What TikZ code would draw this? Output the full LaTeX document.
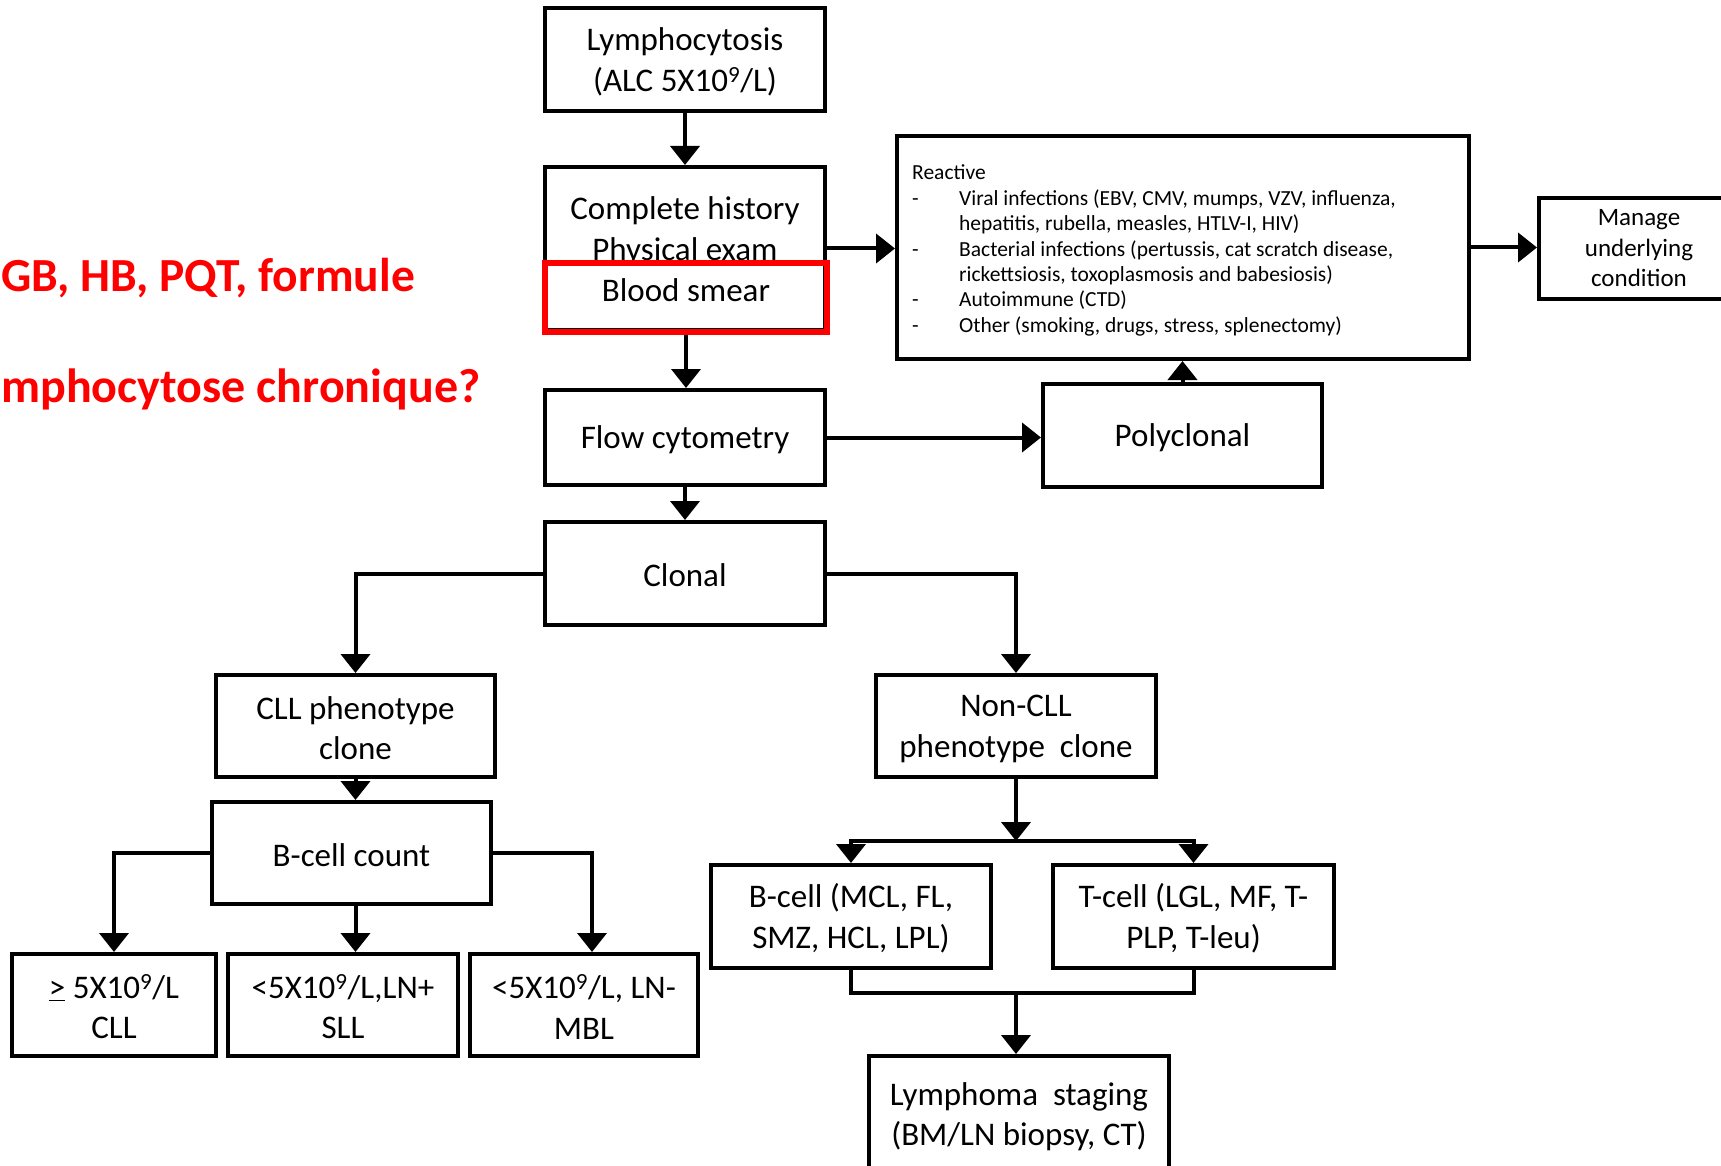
\documentclass[tikz,border=0pt]{standalone}
\usepackage{fontspec}
\setmainfont{Carlito}
\usetikzlibrary{arrows.meta,calc}
\definecolor{alert}{RGB}{255,0,0}
\begin{document}
\begin{tikzpicture}[x=1pt,y=-1pt,
  box/.style={draw, line width=4pt, align=center, inner sep=0pt,
    font=\fontsize{33}{40.5}\selectfont},
  one/.style={text height=27pt},
  two/.style={text height=68pt},
  txt/.style={align=center, inner sep=0pt, font=\fontsize{33}{40.5}\selectfont},
  arr/.style={line width=4pt, -{Triangle[width=29pt,length=19pt]}},
  link/.style={line width=4pt},
  redtext/.style={anchor=base west, inner sep=0pt, text=alert}]

\useasboundingbox (0,0) rectangle (1721,1166);
\fill[white] (0,0) rectangle (1721,1166);
\clip (0,0) rectangle (1721,1166);

% side notes
\node[redtext, font=\bfseries\fontsize{47.5}{56}\selectfont] (noteA) at (1,291)
  {GB, HB, PQT, formule};
\node[redtext, font=\bfseries\fontsize{48}{56}\selectfont] (noteB) at (1,402)
  {mphocytose chronique?};

% main column
\node[box, two, minimum width=280pt, minimum height=103pt] (lym) at (685,59.5)
  {Lymphocytosis\\(ALC 5X10\textsuperscript{9}/L)};
\node[box, minimum width=280pt, minimum height=163pt] (hist) at (685,248.5) {};
\node[txt] (histtext) at (685,231) {Complete history\\Physical exam};
\node[draw=alert, line width=5.5pt, minimum width=282pt, minimum height=69pt,
  inner sep=0pt] (smear) at (686,297.5) {};
\node[txt] (smeartext) at (686,290.5) {Blood smear};
\node[box, one, minimum width=280pt, minimum height=95pt] (flow) at (685,437.5) {Flow cytometry};
\node[box, one, minimum width=280pt, minimum height=103pt] (clonal) at (685,573.5) {Clonal};

% reactive branch
\node[draw, line width=4pt, minimum width=572pt, minimum height=223pt,
  inner sep=0pt] (reactive) at (1183,247.5) {};
\node[anchor=base west, inner sep=0pt, font=\fontsize{21.5}{25.4}\selectfont]
  (reactlist) at (912,180) {\begin{tabular}[t]{@{}p{47pt}@{}l@{}}
  \multicolumn{2}{@{}l@{}}{Reactive}\\
  -&Viral infections (EBV, CMV, mumps, VZV, influenza,\\
   &hepatitis, rubella, measles, HTLV-I, HIV)\\
  -&Bacterial infections (pertussis, cat scratch disease,\\
   &rickettsiosis, toxoplasmosis and babesiosis)\\
  -&Autoimmune (CTD)\\
  -&Other (smoking, drugs, stress, splenectomy)
  \end{tabular}};
\node[box, minimum width=200pt, minimum height=101pt,
  font=\fontsize{25}{30.5}\selectfont] (manage) at (1639,248.5)
  {Manage\\underlying\\condition};
\node[box, one, minimum width=279pt, minimum height=103pt] (poly) at (1182.5,435.5) {Polyclonal};

% CLL branch
\node[box, two, minimum width=279pt, minimum height=102pt] (cll) at (355.5,726)
  {CLL phenotype\\clone};
\node[box, one, minimum width=279pt, minimum height=102pt] (bcount) at (351.5,853) {B-cell count};
\node[box, two, minimum width=204pt, minimum height=102pt] (b1) at (114,1005)
  {\underline{>} 5X10\textsuperscript{9}/L\\CLL};
\node[box, two, minimum width=230pt, minimum height=102pt] (b2) at (343,1005)
  {<5X10\textsuperscript{9}/L,LN+\\SLL};
\node[box, two, minimum width=228pt, minimum height=102pt] (b3) at (584,1005)
  {<5X10\textsuperscript{9}/L, LN-\\MBL};

% non-CLL branch
\node[box, two, minimum width=280pt, minimum height=102pt] (noncll) at (1016,726)
  {Non-CLL\\phenotype\ \ clone};
\node[box, two, minimum width=280pt, minimum height=103pt] (bcell) at (851,916.5)
  {B-cell (MCL, FL,\\SMZ, HCL, LPL)};
\node[box, two, minimum width=281pt, minimum height=103pt] (tcell) at (1193.5,916.5)
  {T-cell (LGL, MF, T-\\PLP, T-leu)};
\node[box, two, minimum width=300pt, minimum height=117pt] (staging) at (1019,1114.5)
  {Lymphoma\ \ staging\\(BM/LN biopsy, CT)};

\coordinate (split) at (1016,841);
\coordinate (merge) at (1016,993);

% connectors
\draw[arr] (lym.south) -- (lym.south |- hist.north);
\draw[arr] (hist.east) -- (reactive.west |- hist.east);
\draw[arr] (smear.south) -- (smear.south |- flow.north);
\draw[arr] (flow.east) -- (poly.west |- flow.east);
\draw[arr] (poly.north) -- (poly.north |- reactive.south);
\draw[arr] (reactive.east) -- (manage.west |- reactive.east);
\draw[arr] (flow.south) -- (clonal.north);
\draw[arr] (clonal.west) -| (cll.north);
\draw[arr] (clonal.east) -| (noncll.north);
\draw[arr] (cll.south) -- (cll.south |- bcount.north);
\draw[arr] (bcount.west) -| (b1.north);
\draw[arr] ([xshift=4pt]bcount.south) -- ([xshift=4pt]bcount.south |- b2.north);
\draw[arr] (bcount.east) -| ([xshift=8pt]b3.north);
\draw[arr] (noncll.south) -- (split);
\draw[arr] (split) -| (bcell.north);
\draw[arr] (split) -| (tcell.north);
\draw[link] (bcell.south) |- (merge);
\draw[link] (tcell.south) |- (merge);
\draw[arr] (merge) -- (merge |- staging.north);
\end{tikzpicture}
\end{document}
